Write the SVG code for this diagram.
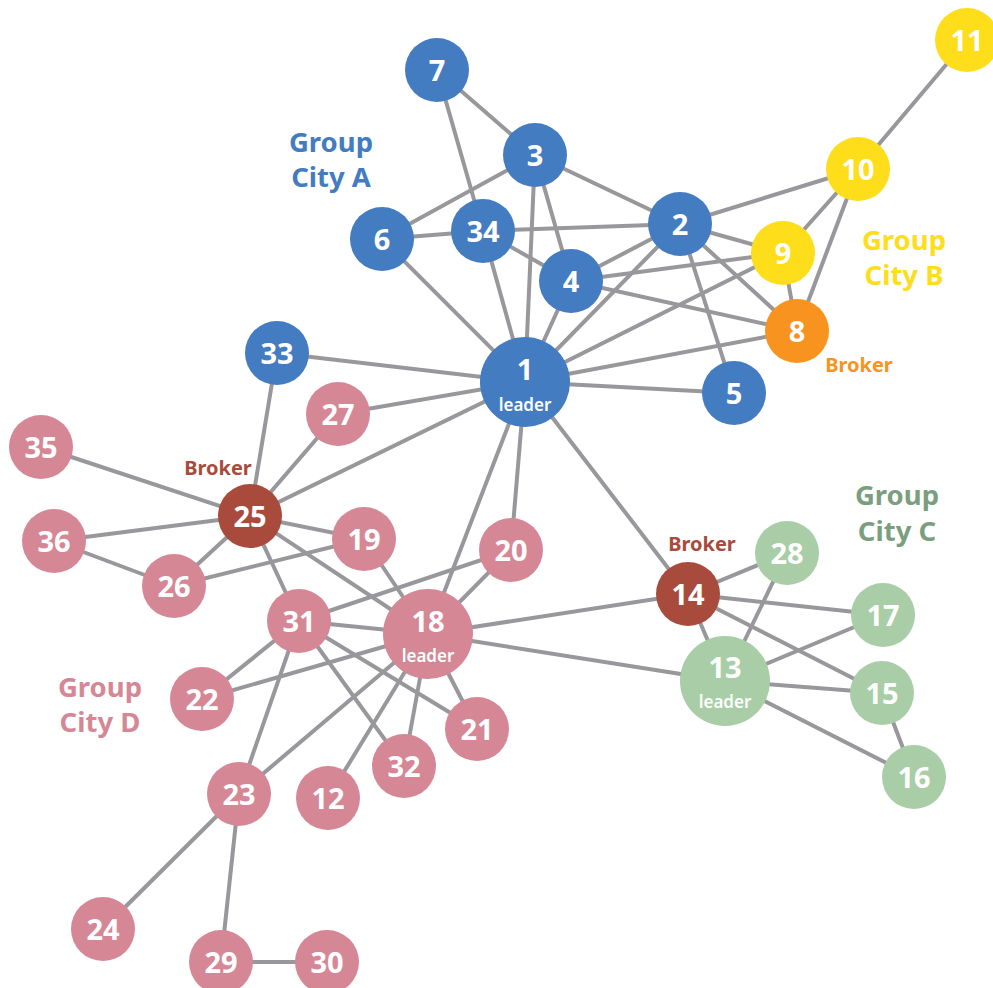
<svg xmlns="http://www.w3.org/2000/svg" width="993" height="988" viewBox="0 0 993 988">
<style>
.e{stroke:#98989c;stroke-width:4;fill:none;stroke-linecap:round}
.n{font-family:"Noto Sans","Open Sans","DejaVu Sans",sans-serif;font-weight:700;font-size:29px;fill:#fff;text-anchor:middle}
.ld{font-family:"Noto Sans","Open Sans","DejaVu Sans",sans-serif;font-weight:600;font-size:17px;fill:#fff;text-anchor:middle}
.g{font-family:"Noto Sans","Open Sans","DejaVu Sans",sans-serif;font-weight:700;font-size:27.5px;text-anchor:middle}
.bk{font-family:"Noto Sans","Open Sans","DejaVu Sans",sans-serif;font-weight:700;font-size:20px;text-anchor:middle}
.A{fill:#437cc0}.B{fill:#fedd1a}.O{fill:#f7931e}.R{fill:#a84b3c}.D{fill:#d68795}.C{fill:#a9cda6}
</style>
<g id="connectors">
<line class="e" x1="437" y1="70" x2="535" y2="155"/>
<line class="e" x1="437" y1="70" x2="483" y2="231"/>
<line class="e" x1="535" y1="155" x2="382" y2="239"/>
<line class="e" x1="535" y1="155" x2="680" y2="224"/>
<line class="e" x1="535" y1="155" x2="571" y2="281"/>
<line class="e" x1="535" y1="155" x2="525" y2="382"/>
<line class="e" x1="382" y1="239" x2="483" y2="231"/>
<line class="e" x1="382" y1="239" x2="525" y2="382"/>
<line class="e" x1="483" y1="231" x2="680" y2="224"/>
<line class="e" x1="483" y1="231" x2="571" y2="281"/>
<line class="e" x1="483" y1="231" x2="525" y2="382"/>
<line class="e" x1="571" y1="281" x2="680" y2="224"/>
<line class="e" x1="571" y1="281" x2="783" y2="253"/>
<line class="e" x1="571" y1="281" x2="797" y2="331"/>
<line class="e" x1="571" y1="281" x2="525" y2="382"/>
<line class="e" x1="680" y1="224" x2="858" y2="169"/>
<line class="e" x1="680" y1="224" x2="783" y2="253"/>
<line class="e" x1="680" y1="224" x2="797" y2="331"/>
<line class="e" x1="680" y1="224" x2="734" y2="393"/>
<line class="e" x1="680" y1="224" x2="525" y2="382"/>
<line class="e" x1="525" y1="382" x2="783" y2="253"/>
<line class="e" x1="525" y1="382" x2="797" y2="331"/>
<line class="e" x1="525" y1="382" x2="734" y2="393"/>
<line class="e" x1="525" y1="382" x2="277" y2="353"/>
<line class="e" x1="525" y1="382" x2="338" y2="414"/>
<line class="e" x1="525" y1="382" x2="250" y2="516"/>
<line class="e" x1="525" y1="382" x2="428" y2="634"/>
<line class="e" x1="525" y1="382" x2="511" y2="550"/>
<line class="e" x1="525" y1="382" x2="688" y2="594"/>
<line class="e" x1="858" y1="169" x2="967" y2="40"/>
<line class="e" x1="858" y1="169" x2="783" y2="253"/>
<line class="e" x1="858" y1="169" x2="797" y2="331"/>
<line class="e" x1="783" y1="253" x2="797" y2="331"/>
<line class="e" x1="277" y1="353" x2="250" y2="516"/>
<line class="e" x1="338" y1="414" x2="250" y2="516"/>
<line class="e" x1="41" y1="447" x2="250" y2="516"/>
<line class="e" x1="54" y1="541" x2="250" y2="516"/>
<line class="e" x1="54" y1="541" x2="174" y2="586"/>
<line class="e" x1="174" y1="586" x2="250" y2="516"/>
<line class="e" x1="174" y1="586" x2="364" y2="539"/>
<line class="e" x1="250" y1="516" x2="364" y2="539"/>
<line class="e" x1="250" y1="516" x2="299" y2="621"/>
<line class="e" x1="250" y1="516" x2="428" y2="634"/>
<line class="e" x1="364" y1="539" x2="428" y2="634"/>
<line class="e" x1="511" y1="550" x2="428" y2="634"/>
<line class="e" x1="511" y1="550" x2="299" y2="621"/>
<line class="e" x1="299" y1="621" x2="428" y2="634"/>
<line class="e" x1="299" y1="621" x2="202" y2="699"/>
<line class="e" x1="299" y1="621" x2="239" y2="794"/>
<line class="e" x1="299" y1="621" x2="404" y2="766"/>
<line class="e" x1="299" y1="621" x2="477" y2="729"/>
<line class="e" x1="428" y1="634" x2="202" y2="699"/>
<line class="e" x1="428" y1="634" x2="239" y2="794"/>
<line class="e" x1="428" y1="634" x2="328" y2="798"/>
<line class="e" x1="428" y1="634" x2="404" y2="766"/>
<line class="e" x1="428" y1="634" x2="477" y2="729"/>
<line class="e" x1="428" y1="634" x2="688" y2="594"/>
<line class="e" x1="428" y1="634" x2="725" y2="681"/>
<line class="e" x1="239" y1="794" x2="103" y2="929"/>
<line class="e" x1="239" y1="794" x2="221" y2="962"/>
<line class="e" x1="221" y1="962" x2="327" y2="962"/>
<line class="e" x1="688" y1="594" x2="787" y2="553"/>
<line class="e" x1="688" y1="594" x2="883" y2="615"/>
<line class="e" x1="688" y1="594" x2="882" y2="693"/>
<line class="e" x1="688" y1="594" x2="725" y2="681"/>
<line class="e" x1="787" y1="553" x2="725" y2="681"/>
<line class="e" x1="883" y1="615" x2="725" y2="681"/>
<line class="e" x1="725" y1="681" x2="882" y2="693"/>
<line class="e" x1="725" y1="681" x2="914" y2="777"/>
<line class="e" x1="882" y1="693" x2="914" y2="777"/>
</g>
<g id="labels">
<text class="g A" x="331" y="152">Group</text>
<text class="g A" x="331" y="187">City A</text>
<text class="g B" x="904" y="250">Group</text>
<text class="g B" x="904" y="285">City B</text>
<text class="g" fill="#7a9e7e" x="897" y="505">Group</text>
<text class="g" fill="#7a9e7e" x="897" y="541">City C</text>
<text class="g D" x="100" y="697">Group</text>
<text class="g D" x="100" y="732">City D</text>
<text class="bk O" x="859" y="372">Broker</text>
<text class="bk R" x="218" y="475">Broker</text>
<text class="bk R" x="702" y="551">Broker</text>
</g>
<g id="node-7"><circle class="A" cx="437" cy="70" r="32"/><text class="n" x="437" y="81">7</text></g>
<g id="node-3"><circle class="A" cx="535" cy="155" r="32"/><text class="n" x="535" y="166">3</text></g>
<g id="node-6"><circle class="A" cx="382" cy="239" r="32"/><text class="n" x="382" y="250">6</text></g>
<g id="node-34"><circle class="A" cx="483" cy="231" r="32"/><text class="n" x="483" y="242">34</text></g>
<g id="node-4"><circle class="A" cx="571" cy="281" r="32"/><text class="n" x="571" y="292">4</text></g>
<g id="node-2"><circle class="A" cx="680" cy="224" r="32"/><text class="n" x="680" y="235">2</text></g>
<g id="node-5"><circle class="A" cx="734" cy="393" r="32"/><text class="n" x="734" y="404">5</text></g>
<g id="node-33"><circle class="A" cx="277" cy="353" r="32"/><text class="n" x="277" y="364">33</text></g>
<g id="node-1"><circle class="A" cx="525" cy="382" r="45"/><text class="n" x="525" y="380">1</text><text class="ld" x="525" y="411">leader</text></g>
<g id="node-11"><circle class="B" cx="967" cy="40" r="32"/><text class="n" x="967" y="51">11</text></g>
<g id="node-10"><circle class="B" cx="858" cy="169" r="32"/><text class="n" x="858" y="180">10</text></g>
<g id="node-9"><circle class="B" cx="783" cy="253" r="32"/><text class="n" x="783" y="264">9</text></g>
<g id="node-8"><circle class="O" cx="797" cy="331" r="32"/><text class="n" x="797" y="342">8</text></g>
<g id="node-27"><circle class="D" cx="338" cy="414" r="32"/><text class="n" x="338" y="425">27</text></g>
<g id="node-35"><circle class="D" cx="41" cy="447" r="32"/><text class="n" x="41" y="458">35</text></g>
<g id="node-25"><circle class="R" cx="250" cy="516" r="32"/><text class="n" x="250" y="527">25</text></g>
<g id="node-36"><circle class="D" cx="54" cy="541" r="32"/><text class="n" x="54" y="552">36</text></g>
<g id="node-26"><circle class="D" cx="174" cy="586" r="32"/><text class="n" x="174" y="597">26</text></g>
<g id="node-19"><circle class="D" cx="364" cy="539" r="32"/><text class="n" x="364" y="550">19</text></g>
<g id="node-20"><circle class="D" cx="511" cy="550" r="32"/><text class="n" x="511" y="561">20</text></g>
<g id="node-31"><circle class="D" cx="299" cy="621" r="32"/><text class="n" x="299" y="632">31</text></g>
<g id="node-18"><circle class="D" cx="428" cy="634" r="45"/><text class="n" x="428" y="632">18</text><text class="ld" x="428" y="662">leader</text></g>
<g id="node-22"><circle class="D" cx="202" cy="699" r="32"/><text class="n" x="202" y="710">22</text></g>
<g id="node-21"><circle class="D" cx="477" cy="729" r="32"/><text class="n" x="477" y="740">21</text></g>
<g id="node-32"><circle class="D" cx="404" cy="766" r="32"/><text class="n" x="404" y="777">32</text></g>
<g id="node-12"><circle class="D" cx="328" cy="798" r="32"/><text class="n" x="328" y="809">12</text></g>
<g id="node-23"><circle class="D" cx="239" cy="794" r="32"/><text class="n" x="239" y="805">23</text></g>
<g id="node-24"><circle class="D" cx="103" cy="929" r="32"/><text class="n" x="103" y="940">24</text></g>
<g id="node-29"><circle class="D" cx="221" cy="962" r="32"/><text class="n" x="221" y="973">29</text></g>
<g id="node-30"><circle class="D" cx="327" cy="962" r="32"/><text class="n" x="327" y="973">30</text></g>
<g id="node-14"><circle class="R" cx="688" cy="594" r="32"/><text class="n" x="688" y="605">14</text></g>
<g id="node-28"><circle class="C" cx="787" cy="553" r="32"/><text class="n" x="787" y="564">28</text></g>
<g id="node-17"><circle class="C" cx="883" cy="615" r="32"/><text class="n" x="883" y="626">17</text></g>
<g id="node-13"><circle class="C" cx="725" cy="681" r="45"/><text class="n" x="725" y="678">13</text><text class="ld" x="725" y="708">leader</text></g>
<g id="node-15"><circle class="C" cx="882" cy="693" r="32"/><text class="n" x="882" y="704">15</text></g>
<g id="node-16"><circle class="C" cx="914" cy="777" r="32"/><text class="n" x="914" y="788">16</text></g>
</svg>
